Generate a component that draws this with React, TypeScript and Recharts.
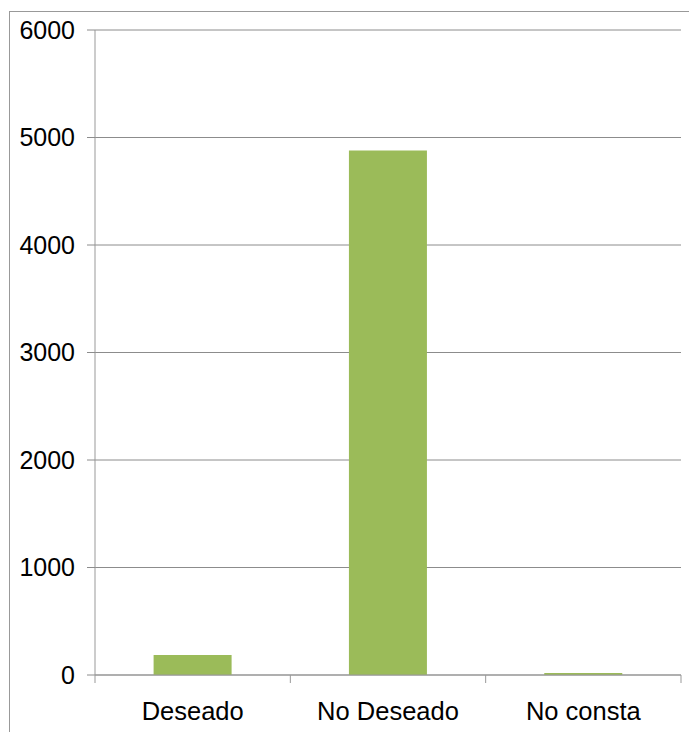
import React from 'react';
import { BarChart, Bar, XAxis, YAxis, CartesianGrid } from 'recharts';

const categories = ['Deseado', 'No Deseado', 'No consta'];
const counts = [185, 4880, 18];
const yTicks = [0, 1000, 2000, 3000, 4000, 5000, 6000];

const data = categories.map((name, i) => ({ name, value: counts[i] }));

const FONT = 'Liberation Sans, Arial, sans-serif';

const CategoryTick = (props: any) => {
  const { x, y, payload, index } = props;
  const half = payload.offset || 0;
  const last = index === categories.length - 1;
  return (
    <g>
      <line x1={x - half} y1={y} x2={x - half} y2={y + 8} stroke="#999" />
      {last && <line x1={x + half} y1={y} x2={x + half} y2={y + 8} stroke="#999" />}
      <text x={x} y={y + 45} textAnchor="middle" fontSize={25.5} fontFamily={FONT} fill="#000">
        {payload.value}
      </text>
    </g>
  );
};

export default function App() {
  return (
    <div style={{ position: 'relative', width: 689, height: 724, overflow: 'hidden', background: '#fff' }}>
      <div
        style={{
          position: 'absolute',
          left: 1,
          top: 3,
          width: 800,
          height: 800,
          border: '1px solid #999',
          boxSizing: 'border-box',
        }}
      />
      <div style={{ position: 'absolute', left: 0, top: 0 }}>
        <BarChart
          width={689}
          height={724}
          data={data}
          margin={{ top: 22, right: 16, left: 0, bottom: 0 }}
          barCategoryGap="30%"
        >
          <CartesianGrid vertical={false} stroke="#8c8c8c" />
          <XAxis
            dataKey="name"
            height={57}
            axisLine={{ stroke: '#999' }}
            tickLine={false}
            tickSize={0}
            tickMargin={0}
            interval={0}
            tick={<CategoryTick />}
          />
          <YAxis
            width={87}
            domain={[0, 6000]}
            ticks={yTicks}
            interval={0}
            axisLine={{ stroke: '#999' }}
            tickLine={{ stroke: '#8c8c8c' }}
            tickSize={8}
            tickMargin={12}
            tick={{ fontSize: 25, fontFamily: FONT, fill: '#000' }}
          />
          <Bar dataKey="value" fill="#9bbb59" isAnimationActive={false} />
        </BarChart>
      </div>
    </div>
  );
}
